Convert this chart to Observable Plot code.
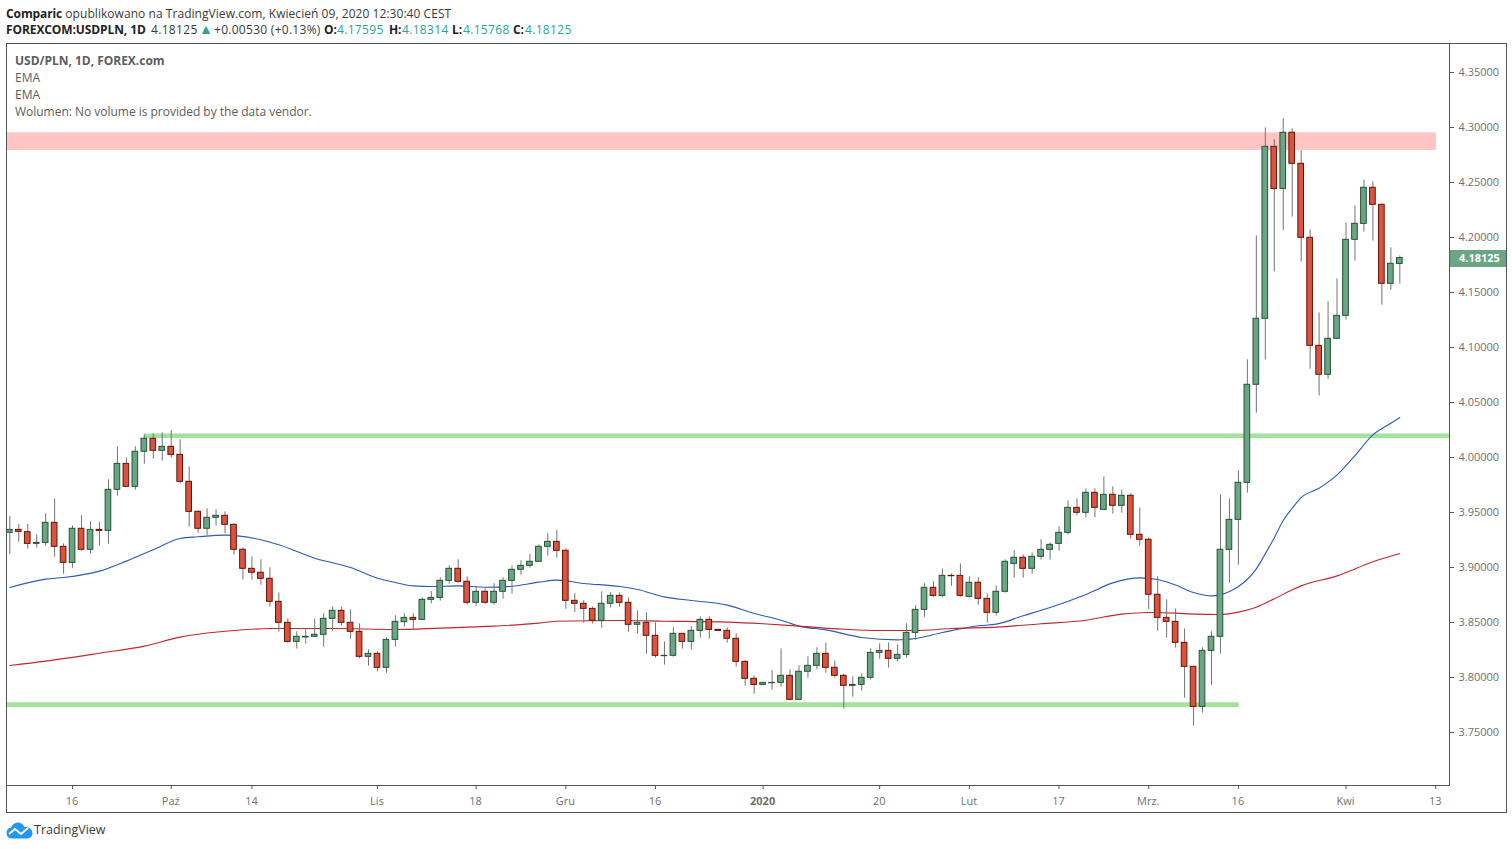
<!DOCTYPE html>
<html><head><meta charset="utf-8">
<script src="https://cdn.jsdelivr.net/npm/d3@7"></script>
<script src="https://cdn.jsdelivr.net/npm/@observablehq/plot@0.6"></script>
<style>
html,body{margin:0;padding:0;background:#fff;width:1512px;height:849px;overflow:hidden;font-family:"Open Sans",sans-serif;}
.t{position:absolute;white-space:nowrap;line-height:16px;}
.hd{font-size:12px;color:#3a3a3a;}
.hd b{font-weight:700;color:#222;letter-spacing:-.1px}
.n{letter-spacing:.32px}
.c{color:#26a69a;letter-spacing:.32px}
.lg{left:15px;font-size:12px;color:#5d5d5d;letter-spacing:-.02px}
#box{position:absolute;left:6px;top:43px;width:1499px;height:768px;border:1px solid #555;pointer-events:none}
#chart{position:absolute;left:0;top:40px}
#chart svg{display:block;overflow:visible}
</style></head><body>
<div class="t hd" style="left:6px;top:6px;letter-spacing:.05px"><b>Comparic</b> opublikowano na TradingView.com, Kwiecień 09, 2020 12:30:40 CEST</div>
<div class="t hd" style="left:6px;top:22px"><b>FOREXCOM:USDPLN, 1D</b></div>
<div class="t hd n" style="left:151px;top:22px">4.18125</div>
<div class="t hd c" style="left:199px;top:21px;font-size:14px">▲</div>
<div class="t hd" style="left:214px;top:22px;letter-spacing:.28px">+0.00530 (+0.13%)</div>
<div class="t hd" style="left:324px;top:22px"><b>O:</b></div><div class="t hd c" style="left:337px;top:22px">4.17595</div>
<div class="t hd" style="left:389px;top:22px"><b>H:</b></div><div class="t hd c" style="left:402px;top:22px">4.18314</div>
<div class="t hd" style="left:452px;top:22px"><b>L:</b></div><div class="t hd c" style="left:463px;top:22px">4.15768</div>
<div class="t hd" style="left:513px;top:22px"><b>C:</b></div><div class="t hd c" style="left:525px;top:22px">4.18125</div>
<div id="chart"></div>
<div id="box"></div>
<div class="t lg" style="top:53px;font-weight:700">USD/PLN, 1D, FOREX.com</div>
<div class="t lg" style="top:70px">EMA</div>
<div class="t lg" style="top:87px">EMA</div>
<div class="t lg" style="top:104px">Wolumen: No volume is provided by the data vendor.</div>
<svg style="position:absolute;left:6px;top:822px" width="27" height="17" viewBox="0 0 27 17"><path d="M6 16.5a5.5 5.5 0 0 1-1-10.9C6.5 2 9.5 .5 12 .5c3 0 5 1.500 6.500 4.500 4-.5 8 2 8 6s-3 5.500-6 5.500z" fill="#2196f3"/><path d="M3 12l6-5 6 5 7-6" fill="none" stroke="#fff" stroke-width="2"/></svg>
<div class="t" style="left:34px;top:822px;font-size:12.5px;color:#3a3a3a">TradingView</div>
<script>
const opens=[3.9315,3.9342,3.9321,3.9215,3.9224,3.9406,3.9188,3.9042,3.9352,3.9161,
3.9342,3.9333,3.9706,3.9942,3.9733,4.0052,4.0170,4.0061,4.0097,4.0024,
3.9779,3.9506,3.9352,3.9452,3.9470,3.9388,3.9161,3.8988,3.8952,3.8897,
3.8688,3.8497,3.8324,3.8364,3.8370,3.8388,3.8533,3.8606,3.8497,3.8415,
3.8188,3.8215,3.8088,3.8342,3.8503,3.8542,3.8524,3.8706,3.8724,3.8879,
3.8988,3.8870,3.8679,3.8779,3.8679,3.8779,3.8879,3.8979,3.9015,3.9052,
3.9188,3.9233,3.9152,3.8697,3.8670,3.8624,3.8515,3.8670,3.8742,3.8679,
3.8479,3.8497,3.8379,3.8194,3.8197,3.8397,3.8324,3.8424,3.8524,3.8433,
3.8424,3.8352,3.8142,3.7988,3.7933,3.7948,3.7951,3.8015,3.7797,3.8052,
3.8106,3.8215,3.8088,3.8015,3.7924,3.7933,3.7997,3.8224,3.8242,3.8170,
3.8206,3.8406,3.8615,3.8815,3.8742,3.8924,3.8924,3.8733,3.8861,3.8715,
3.8588,3.8779,3.9033,3.9088,3.8988,3.9097,3.9161,3.9215,3.9315,3.9542,
3.9497,3.9679,3.9524,3.9661,3.9561,3.9652,3.9297,3.9252,3.8752,3.8542,
3.8506,3.8315,3.8097,3.7733,3.8242,3.8370,3.9161,3.9433,3.9770,4.0661,
4.1261,4.2824,4.2442,4.2952,4.2670,4.1997,4.1015,4.0752,4.1079,4.1288,
4.1979,4.2124,4.2452,4.2297,4.1579,4.17595];
const closes=[3.9342,3.9324,3.9215,3.9224,3.9406,3.9188,3.9042,3.9352,3.9161,3.9342,
3.9333,3.9706,3.9942,3.9733,4.0052,4.0170,4.0061,4.0097,4.0024,3.9779,
3.9506,3.9352,3.9452,3.9470,3.9388,3.9161,3.8988,3.8952,3.8897,3.8688,
3.8497,3.8324,3.8370,3.8370,3.8388,3.8533,3.8606,3.8497,3.8415,3.8188,
3.8215,3.8088,3.8342,3.8506,3.8542,3.8524,3.8706,3.8724,3.8879,3.8988,
3.8870,3.8679,3.8779,3.8679,3.8779,3.8879,3.8979,3.9015,3.9052,3.9188,
3.9233,3.9152,3.8697,3.8670,3.8624,3.8515,3.8670,3.8742,3.8679,3.8479,
3.8497,3.8379,3.8197,3.8197,3.8397,3.8324,3.8424,3.8524,3.8433,3.8424,
3.8352,3.8142,3.7988,3.7933,3.7951,3.7951,3.8015,3.7797,3.8052,3.8106,
3.8215,3.8088,3.8015,3.7924,3.7933,3.7997,3.8224,3.8242,3.8170,3.8206,
3.8406,3.8615,3.8815,3.8742,3.8924,3.8921,3.8742,3.8861,3.8715,3.8588,
3.8779,3.9052,3.9088,3.8988,3.9097,3.9161,3.9206,3.9315,3.9542,3.9497,
3.9679,3.9542,3.9661,3.9561,3.9652,3.9297,3.9252,3.8752,3.8542,3.8506,
3.8315,3.8097,3.7733,3.8242,3.8370,3.9161,3.9433,3.9770,4.0661,4.1261,
4.2824,4.2442,4.2952,4.2670,4.1997,4.1015,4.0752,4.1079,4.1288,4.1979,
4.2124,4.2452,4.2297,4.1579,4.1761,4.18125];
const highs=[3.9464,3.9391,3.9391,3.9297,3.9488,3.9624,3.9215,3.9379,3.9470,3.9415,
3.9409,3.9797,4.0097,3.9997,4.0097,4.0206,4.0215,4.0224,4.0245,4.0161,
3.9915,3.9515,3.9533,3.9524,3.9506,3.9397,3.9179,3.9097,3.9070,3.8997,
3.8770,3.8533,3.8415,3.8442,3.8533,3.8579,3.8642,3.8642,3.8615,3.8488,
3.8252,3.8233,3.8361,3.8561,3.8579,3.8579,3.8724,3.8782,3.8906,3.9015,
3.9070,3.8915,3.8821,3.8806,3.8852,3.8906,3.9015,3.9061,3.9118,3.9206,
3.9306,3.9336,3.9170,3.8761,3.8700,3.8642,3.8779,3.8770,3.8770,3.8724,
3.8606,3.8588,3.8497,3.8324,3.8452,3.8400,3.8461,3.8552,3.8552,3.8433,
3.8452,3.8397,3.8151,3.8015,3.7951,3.8064,3.8261,3.8070,3.8106,3.8188,
3.8270,3.8315,3.8151,3.8033,3.8006,3.8033,3.8261,3.8306,3.8315,3.8297,
3.8488,3.8652,3.8852,3.8870,3.8988,3.8942,3.9033,3.8915,3.8906,3.8761,
3.8833,3.9070,3.9152,3.9115,3.9133,3.9252,3.9224,3.9370,3.9606,3.9624,
3.9715,3.9715,3.9824,3.9733,3.9706,3.9670,3.9542,3.9270,3.8915,3.8706,
3.8624,3.8442,3.8100,3.8270,3.8415,3.9661,3.9624,3.9879,4.0888,4.2015,
4.2997,4.2888,4.3079,4.2988,4.2788,4.2070,4.1315,4.1415,4.1624,4.2133,
4.2288,4.2524,4.2506,4.2306,4.1906,4.18314];
const lows=[3.9118,3.9230,3.9167,3.9176,3.9194,3.9094,3.8939,3.8994,3.9148,3.9121,
3.9194,3.9212,3.9648,3.9730,3.9703,3.9939,3.9985,3.9967,3.9994,3.9758,
3.9367,3.9312,3.9288,3.9376,3.9306,3.9112,3.8885,3.8885,3.8839,3.8639,
3.8412,3.8312,3.8258,3.8303,3.8367,3.8276,3.8421,3.8470,3.8348,3.8170,
3.8103,3.8052,3.8039,3.8276,3.8458,3.8439,3.8520,3.8670,3.8694,3.8848,
3.8858,3.8658,3.8648,3.8667,3.8658,3.8712,3.8758,3.8930,3.8994,3.9048,
3.9103,3.9085,3.8621,3.8591,3.8494,3.8485,3.8448,3.8630,3.8639,3.8412,
3.8394,3.8212,3.8176,3.8112,3.8185,3.8258,3.8249,3.8358,3.8349,3.8424,
3.8312,3.8094,3.7921,3.7848,3.7933,3.7885,3.7912,3.7788,3.7788,3.7994,
3.8070,3.8039,3.7994,3.7712,3.7821,3.7876,3.7976,3.8167,3.8085,3.8139,
3.8176,3.8339,3.8548,3.8730,3.8730,3.8830,3.8730,3.8721,3.8658,3.8494,
3.8558,3.8767,3.8903,3.8903,3.8939,3.9067,3.9067,3.9148,3.9294,3.9470,
3.9452,3.9452,3.9520,3.9485,3.9494,3.9258,3.9194,3.8618,3.8421,3.8358,
3.8267,3.7812,3.7558,3.7676,3.7930,3.8212,3.8858,3.9021,3.9676,4.0403,
4.0885,4.1685,4.2061,4.2185,4.1776,4.0803,4.0558,4.0712,4.1070,4.1248,
4.1785,4.2048,4.1967,4.1385,4.1521,4.15768];

const fastEmaAt=[0,4,6,10,13,16,19,21,24,28,30,34,38,41,43,45,47,50,53,56,59,61,64,68,70,73,76,80,83,86,88,91,95,99,101,104,108,110,113,116,120,123,126,128,130,132,134,136,137,139,140,141,142,143,144,146,148,150,152,154,155];
const fastEmaValues=[3.8818,3.8894,3.8909,3.8967,3.9058,3.9161,3.9264,3.9279,3.9294,3.9252,3.9206,3.9085,3.9000,3.8903,3.8864,3.8833,3.8827,3.8833,3.8821,3.8830,3.8867,3.8885,3.8855,3.8827,3.8800,3.8733,3.8700,3.8658,3.8582,3.8521,3.8467,3.8433,3.8364,3.8342,3.8355,3.8409,3.8470,3.8485,3.8561,3.8636,3.8755,3.8860,3.8906,3.8891,3.8840,3.8773,3.8742,3.8782,3.8827,3.8988,3.9124,3.9270,3.9427,3.9539,3.9636,3.9721,3.9842,4.0018,4.0205,4.0312,4.0364];
const slowEmaAt=[0,4,10,15,19,25,29,36,43,48,54,59,61,68,73,80,84,88,93,97,101,105,110,115,120,124,127,130,132,135,137,139,141,143,144,148,152,155];
const slowEmaValues=[3.8109,3.8149,3.8221,3.8285,3.8367,3.8427,3.8445,3.8445,3.8436,3.8449,3.8467,3.8494,3.8512,3.8518,3.8512,3.8503,3.8488,3.8467,3.8439,3.8427,3.8427,3.8445,3.8458,3.8488,3.8521,3.8576,3.8591,3.8585,3.8576,3.8573,3.8594,3.8639,3.8715,3.8797,3.8833,3.8924,3.9052,3.9127];

const xTicks=[7,18,27,41,52,62,72,84,97,107,117,127,137,149,159];
const xTickLabels=["16","Paź","14","Lis","18","Gru","16","2020","20","Lut","17","Mrz.","16","Kwi","13"];
const yTicks=[3.75,3.80,3.85,3.90,3.95,4.00,4.05,4.10,4.15,4.20,4.25,4.30,4.35];
const zoneResistance={x1:-0.368,x2:159.08,y1:4.2791,y2:4.2952};
const zoneSupportTop={x1:15,x2:160.54,y1:4.0172,y2:4.0214};
const zoneSupportLow={x1:-0.368,x2:137.1,y1:3.7727,y2:3.7770};
const lastPrice=4.18125;
const lastPriceBand={x1:160.54,x2:166.9,y1:4.1727,y2:4.1882};

const candles=opens.map((o,i)=>({i,o,c:closes[i],h:highs[i],l:lows[i],up:closes[i]>=o}));
const fast=fastEmaAt.map((i,k)=>({i,v:fastEmaValues[k]}));
const slow=slowEmaAt.map((i,k)=>({i,v:slowEmaValues[k]}));
const HW=0.315;
const body=(arr,fill,stroke)=>Plot.rect(arr,{x1:d=>d.i-HW,x2:d=>d.i+HW,y1:d=>Math.min(d.o,d.c),y2:d=>Math.max(d.o,d.c),fill,stroke,strokeWidth:1,inset:0});
const axisCol="#6f6f6f";
const plot=Plot.plot({
  width:1512,height:773,marginLeft:6,marginRight:63,marginTop:3,marginBottom:28,
  style:{background:"transparent",fontFamily:"'Open Sans',sans-serif",fontSize:"11px"},
  x:{type:"linear",domain:[-0.368,160.54]},
  y:{type:"linear",domain:[3.70182,4.37636]},
  marks:[
    Plot.rect([zoneResistance],{x1:"x1",x2:"x2",y1:"y1",y2:"y2",fill:"#ffc4c4"}),
    Plot.rect([zoneSupportTop],{x1:"x1",x2:"x2",y1:"y1",y2:"y2",fill:"#a3e29d"}),
    Plot.rect([zoneSupportLow],{x1:"x1",x2:"x2",y1:"y1",y2:"y2",fill:"#a3e29d"}),
    Plot.line(fast,{x:"i",y:"v",stroke:"#2a5cb4",strokeWidth:1.1,curve:"monotone-x"}),
    Plot.line(slow,{x:"i",y:"v",stroke:"#c0282d",strokeWidth:1.1,curve:"monotone-x"}),
    Plot.ruleX(candles,{x:"i",y1:"l",y2:"h",stroke:"#737375",strokeWidth:1}),
    body(candles.filter(d=>d.up),"#6ba583","#225437"),
    body(candles.filter(d=>!d.up),"#d75442","#6b1100"),
    Plot.axisX({ticks:xTicks.filter((_,k)=>xTickLabels[k]!=="2020"),tickFormat:d=>xTickLabels[xTicks.indexOf(d)],tickSize:4,tickPadding:8,label:null,color:axisCol,stroke:"#555",fontSize:11,textStroke:null}),
    Plot.axisX({ticks:xTicks.filter((_,k)=>xTickLabels[k]==="2020"),tickFormat:()=>"2020",tickSize:4,tickPadding:8,label:null,color:axisCol,stroke:"#555",fontSize:11,fontWeight:"bold"}),
    Plot.axisY({anchor:"right",ticks:yTicks,tickFormat:d=>d.toFixed(5),tickSize:4,tickPadding:5,label:null,color:axisCol,stroke:"#555",fontSize:11}),
    Plot.rect([lastPriceBand],{x1:"x1",x2:"x2",y1:"y1",y2:"y2",fill:"#6ba583",clip:false}),
    Plot.text([lastPrice],{x:161.6,y:d=>d,text:d=>d.toFixed(5),textAnchor:"start",fill:"#fff",fontWeight:"bold",fontSize:11}),
    Plot.frame({stroke:"#555"})
  ]
});
d3.select(plot).selectAll('[aria-label="x-axis tick label"] text').attr("dx",-0.5);
document.getElementById("chart").appendChild(plot);
</script></body></html>
